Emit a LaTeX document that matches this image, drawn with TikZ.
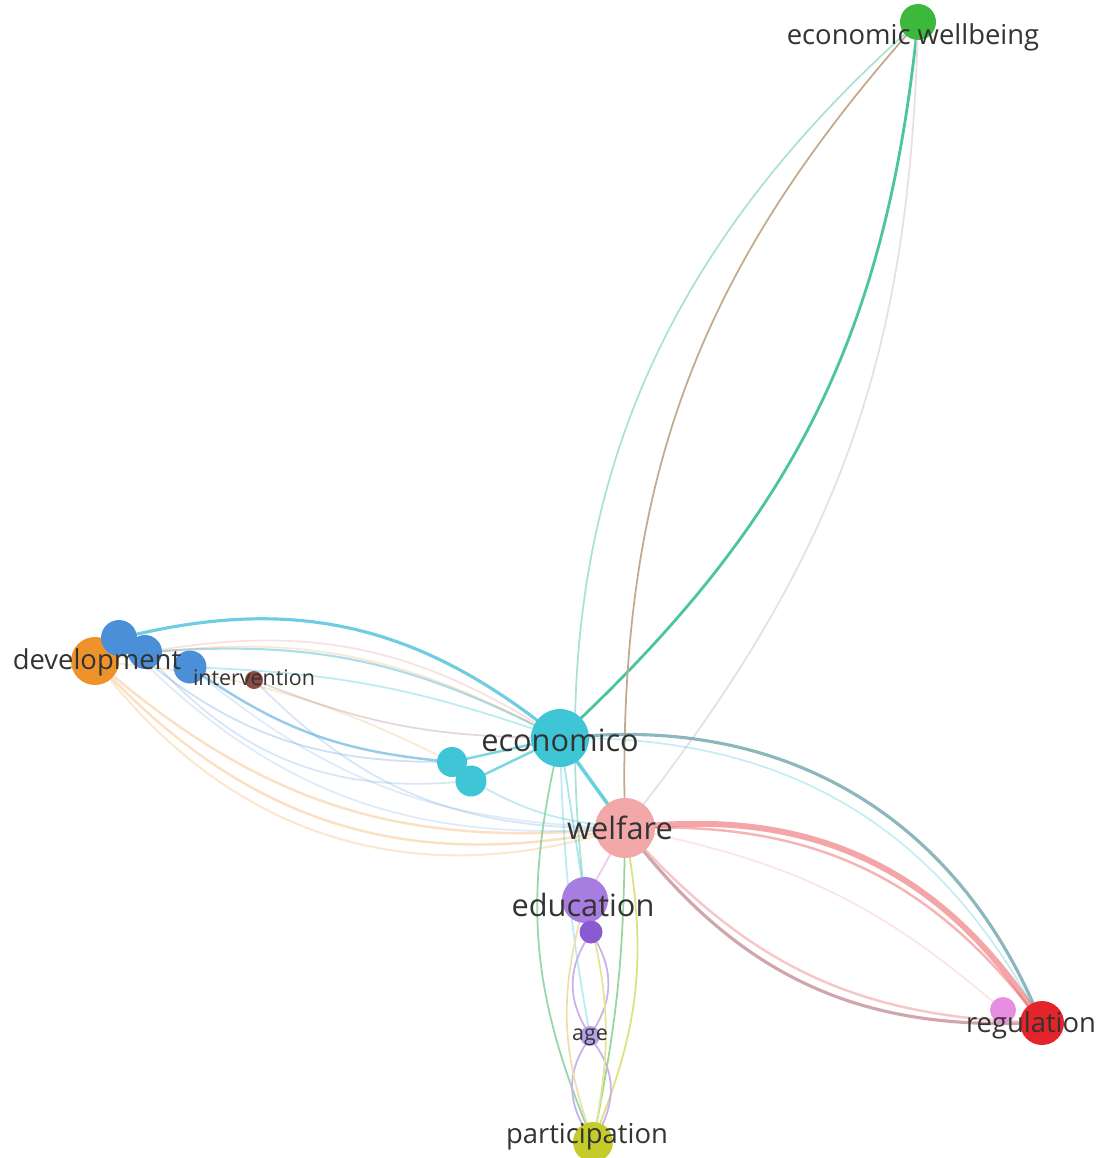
\documentclass[tikz,border=0pt]{standalone}
\usepackage{fontspec}
\setmainfont{Open Sans}
\usetikzlibrary{backgrounds}

\definecolor{ewC}{HTML}{3CB83C}
\definecolor{ecoC}{HTML}{3EC6D6}
\definecolor{welC}{HTML}{F2A8A8}
\definecolor{devC}{HTML}{F0922A}
\definecolor{bluC}{HTML}{4A8FD8}
\definecolor{intC}{HTML}{8A4B40}
\definecolor{eduC}{HTML}{A77DE0}
\definecolor{edusC}{HTML}{8A5AD0}
\definecolor{ageC}{HTML}{B4A2E6}
\definecolor{parC}{HTML}{C5CC2A}
\definecolor{regC}{HTML}{E4242A}
\definecolor{regsC}{HTML}{E68EE0}
\definecolor{txtC}{HTML}{333333}

\begin{document}
\begin{tikzpicture}
[x=0.02cm,y=0.02cm,
 kw/.style={circle,inner sep=0mm,outer sep=0mm,draw=none},
 lbl/.style={text=txtC,inner sep=0mm},
 big/.style={font=\fontsize{17.5}{20}\selectfont},
 mid/.style={font=\fontsize{15.6}{18}\selectfont},
 sml/.style={font=\fontsize{12.2}{14}\selectfont},
 lnk/.style={line width=#1,line cap=round},
 lnk/.default=0.8pt]

\useasboundingbox (0,0) rectangle (1102,-1158);

% cluster: economic wellbeing
\node[kw,fill=ewC,minimum size=0.72cm]    (ew)   at (918,-22)   {};

% cluster: economico
\node[kw,fill=ecoC,minimum size=1.16cm]   (eco)  at (560,-738)  {};
\node[kw,fill=ecoC,minimum size=0.6cm]    (c1)   at (452,-762)  {};
\node[kw,fill=ecoC,minimum size=0.62cm]   (c2)   at (471,-781)  {};

% cluster: development
\node[kw,fill=devC,minimum size=0.96cm]   (dev)  at (95,-661)   {};
\node[kw,fill=bluC,minimum size=0.72cm]   (b1)   at (119,-638)  {};
\node[kw,fill=bluC,minimum size=0.68cm]   (b2)   at (145,-652)  {};
\node[kw,fill=bluC,minimum size=0.66cm]   (b3)   at (190,-667)  {};
\node[kw,fill=intC,minimum size=0.36cm]   (int)  at (254,-680)  {};

% cluster: welfare
\node[kw,fill=welC,minimum size=1.2cm]    (wel)  at (625,-828)  {};
\node[kw,fill=regsC,minimum size=0.52cm]  (reg2) at (1003,-1010) {};
\node[kw,fill=regC,minimum size=0.88cm]   (reg)  at (1042,-1023) {};

% cluster: education
\node[kw,fill=eduC,minimum size=0.92cm]   (edu)  at (585,-900)  {};
\node[kw,fill=edusC,minimum size=0.46cm]  (edu2) at (591,-932)  {};
\node[kw,fill=ageC,minimum size=0.4cm]    (age)  at (590,-1036) {};
\node[kw,fill=parC,minimum size=0.8cm]    (par)  at (593,-1142) {};

\begin{scope}[on background layer]
% to economic wellbeing
\path[lnk=1.6pt,draw={rgb,255:red,76;green,196;blue,160}]       (eco)  edge[bend right=20] (ew);
\path[lnk=1pt,draw={rgb,255:red,196;green,170;blue,140}]        (wel)  edge[bend left=21]  (ew);
\path[lnk=1pt,draw={rgb,255:red,170;green,226;blue,214}]        (edu)  edge[bend left=27]  (ew);
\path[lnk=1pt,draw={rgb,255:red,234;green,222;blue,226}]        (wel)  edge[bend right=18] (ew);

% from economico
\path[lnk=1.8pt,draw=ecoC!80!bluC,draw opacity=.75]             (b1)   edge[bend left=25]  (eco);
\path[lnk=1.2pt,draw=ecoC!70!bluC,draw opacity=.45]             (b2)   edge[bend left=15]  (eco);
\path[lnk=1pt,draw=ecoC,draw opacity=.35]                       (b3)   edge[bend left=8]   (eco);
\path[lnk=1pt,draw=devC,draw opacity=.22]                       (dev)  edge[bend left=18]  (eco);
\path[lnk=1pt,draw=welC,draw opacity=.35]                       (b2)   edge[bend left=20]  (eco);
\path[lnk=1pt,draw=devC,draw opacity=.2]                        (dev)  edge[bend left=10]  (c1);
\path[lnk=1.4pt,draw=bluC!70!ecoC,draw opacity=.55]             (b3)   edge[bend right=14] (c1);
\path[lnk=1pt,draw=bluC,draw opacity=.28]                       (b1)   edge[bend right=20] (c1);
\path[lnk=1pt,draw=bluC,draw opacity=.22]                       (b2)   edge[bend right=26] (c2);
\path[lnk=1pt,draw=intC,draw opacity=.22]                       (int)  edge[bend right=10] (eco);
\path[lnk=1pt,draw=bluC,draw opacity=.22]                       (int)  edge[bend right=22] (wel);
\path[lnk=1.4pt,draw=ecoC,draw opacity=.7]                      (c1)   edge (eco);
\path[lnk=1.4pt,draw=ecoC,draw opacity=.7]                      (c2)   edge (eco);
\path[lnk=1pt,draw=ecoC,draw opacity=.35]                       (c2)   edge[bend right=10] (wel);
\path[lnk=1.8pt,draw={rgb,255:red,120;green,170;blue,176},draw opacity=.85] (eco) edge[bend left=35] (reg);
\path[lnk=1pt,draw=ecoC,draw opacity=.3]                        (eco)  edge[bend left=30]  (reg);
\path[lnk=2pt,draw=ecoC,draw opacity=.8]                        (eco)  edge (wel);
\path[lnk=1pt,draw=ecoC,draw opacity=.45]                       (eco)  edge (edu);
\path[lnk=1pt,draw={rgb,255:red,150;green,214;blue,170}]        (eco)  edge[bend right=17] (par);
\path[lnk=1pt,draw=ecoC,draw opacity=.35]                       (eco)  edge[bend right=4]  (age);

% from development
\path[lnk=1.4pt,draw=devC,draw opacity=.28]                     (dev)  edge[bend right=22] (wel);
\path[lnk=1.4pt,draw=devC,draw opacity=.28]                     (dev)  edge[bend right=28] (wel);
\path[lnk=1.2pt,draw=devC,draw opacity=.22]                     (dev)  edge[bend right=33] (wel);
\path[lnk=1pt,draw=bluC,draw opacity=.18]                       (b1)   edge[bend right=24] (wel);
\path[lnk=1pt,draw=bluC,draw opacity=.18]                       (b3)   edge[bend right=18] (wel);

% from welfare
\path[lnk=3.4pt,draw=regC!70!welC,draw opacity=.5]              (wel)  edge[bend left=30]  (reg);
\path[lnk=1.4pt,draw=regC!60!welC,draw opacity=.45]             (wel)  edge[bend left=26]  (reg);
\path[lnk=1.8pt,draw={rgb,255:red,200;green,150;blue,160},draw opacity=.85] (wel) edge[bend right=26] (reg);
\path[lnk=1.4pt,draw=welC,draw opacity=.65]                     (wel)  edge[bend right=22] (reg);
\path[lnk=1pt,draw=welC,draw opacity=.3]                        (wel)  edge[bend left=14]  (reg2);
\path[lnk=1pt,draw=welC!70!eduC,draw opacity=.5]                (wel)  edge (edu);
\path[lnk=1pt,draw={rgb,255:red,150;green,214;blue,150}]        (wel)  edge[bend left=5]   (par);
\path[lnk=1pt,draw=parC!60!white]                               (wel)  edge[bend left=15]  (par);

% from education
\path[lnk=1pt,draw=eduC!60!white]                               (edu2) edge[bend left=30]  (age);
\path[lnk=1pt,draw=eduC!60!white]                               (edu2) edge[bend right=30] (age);
\path[lnk=1pt,draw=eduC!60!white]                               (age)  edge[bend left=30]  (par);
\path[lnk=1pt,draw=eduC!60!white]                               (age)  edge[bend right=30] (par);
\path[lnk=1pt,draw=parC!50!devC!40!white]                       (edu)  edge[bend right=16] (par);
\path[lnk=1pt,draw=parC!50!white]                               (edu)  edge[bend left=12]  (par);
\end{scope}

% labels
\node[lbl,mid] (ewT)   at (913,-37)   {economic wellbeing};
\node[lbl,big] (ecoT)  at (560,-740)  {economico};
\node[lbl,big] (welT)  at (620,-828)  {welfare};
\node[lbl,mid] (devT)  at (97,-662)   {development};
\node[lbl,sml] (intT)  at (254,-678)  {intervention};
\node[lbl,big] (eduT)  at (583,-905)  {education};
\node[lbl,sml] (ageT)  at (590,-1037) {age};
\node[lbl,mid] (parT)  at (587,-1137) {participation};
\node[lbl,mid] (regT)  at (1031,-1025) {regulation};

\end{tikzpicture}
\end{document}
